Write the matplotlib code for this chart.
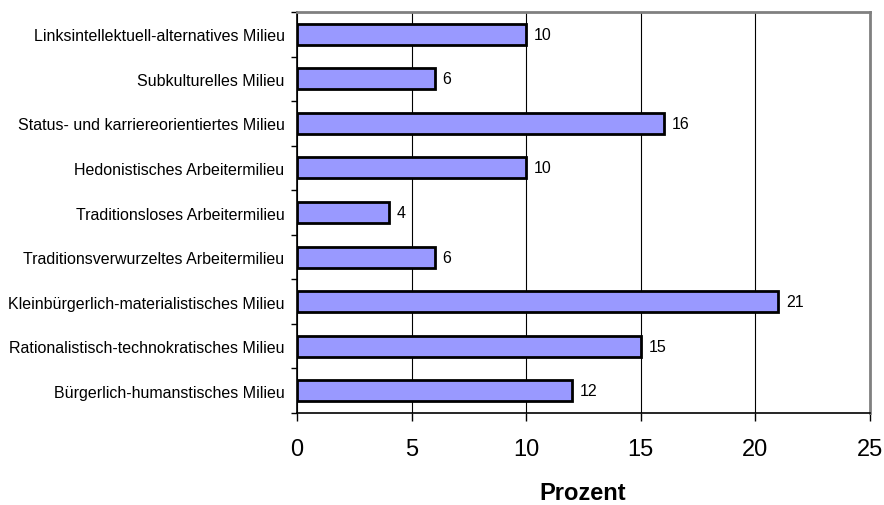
import matplotlib
matplotlib.use("Agg")
import matplotlib.pyplot as plt
import numpy as np

plt.rcParams['font.family'] = ['Liberation Sans', 'DejaVu Sans']

categories = [
    "Linksintellektuell-alternatives Milieu",
    "Subkulturelles Milieu",
    "Status- und karriereorientiertes Milieu",
    "Hedonistisches Arbeitermilieu",
    "Traditionsloses Arbeitermilieu",
    "Traditionsverwurzeltes Arbeitermilieu",
    "Kleinbürgerlich-materialistisches Milieu",
    "Rationalistisch-technokratisches Milieu",
    "Bürgerlich-humanstisches Milieu",
]
values = [10, 6, 16, 10, 4, 6, 21, 15, 12]
x_ticks = [0, 5, 10, 15, 20, 25]
x_label = "Prozent"

fig = plt.figure(figsize=(8.84, 5.06), dpi=100)
ax = fig.add_axes([297 / 884, 1 - 414 / 506, (870 - 297) / 884, (414 - 13) / 506])

n = len(categories)
y = np.arange(n)[::-1]  # first category at the top
ax.barh(y, values, height=0.47, color="#9999FF", edgecolor="black", linewidth=2, zorder=3)

for yi, v in zip(y, values):
    ax.text(v + 0.35, yi, str(v), va="center", ha="left", fontsize=11.5, zorder=4)

ax.set_xlim(0, 25)
ax.set_ylim(-0.5, n - 0.5)
ax.set_xticks(x_ticks)
ax.set_xticklabels([str(t) for t in x_ticks], fontsize=17)
ax.tick_params(axis="x", direction="out", length=6, width=1, pad=12)

# category labels centred on bars, tick marks between categories
ax.set_yticks(y)
ax.set_yticklabels(categories, fontsize=11.5)
ax.tick_params(axis="y", which="major", length=0, pad=9)
ax.set_yticks(np.arange(n + 1) - 0.5, minor=True)
ax.tick_params(axis="y", which="minor", direction="out", length=4, width=1)

ax.xaxis.grid(True, color="black", linewidth=0.8, zorder=0)
ax.set_axisbelow(True)

for side in ("left", "bottom"):
    ax.spines[side].set_color("black")
    ax.spines[side].set_linewidth(1.2)
for side in ("top", "right"):
    ax.spines[side].set_color("#808080")
    ax.spines[side].set_linewidth(2)

fig.text(583 / 884, 1 - 494 / 506, x_label, ha="center", va="center",
         fontsize=17, fontweight="bold")

fig.savefig("out.png", dpi=100)
